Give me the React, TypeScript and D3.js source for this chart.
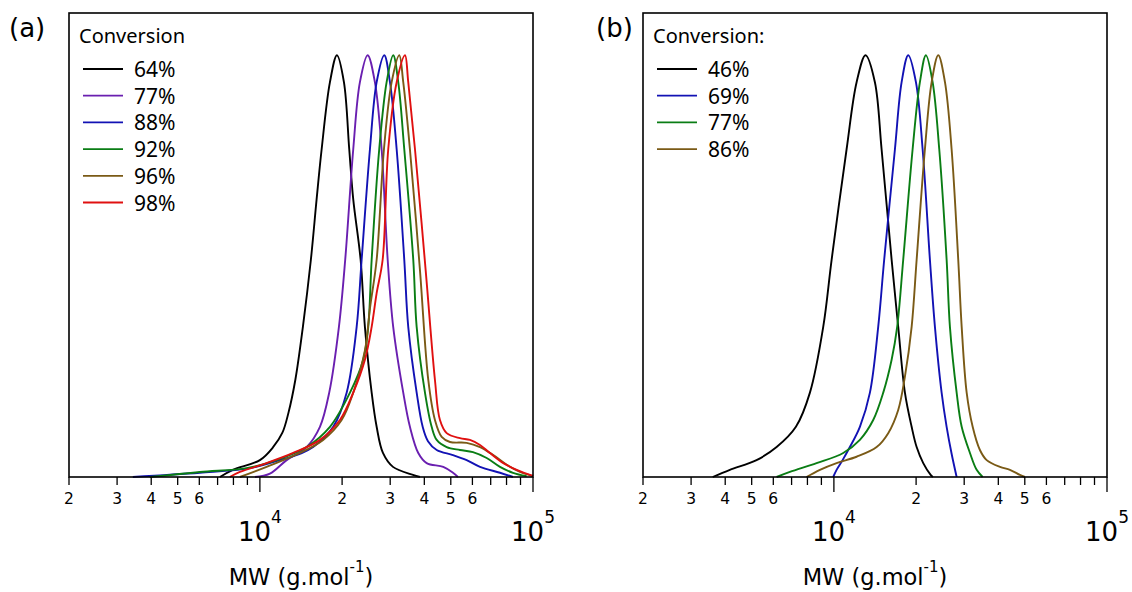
import React from 'react';
import * as d3 from 'd3';

// ---------- Panel (a) data: [MW (g/mol), normalised signal] ----------
const labelsA = ['64%', '77%', '88%', '92%', '96%', '98%'];
const colorsA = ['#000000', '#6a1fb0', '#1212b4', '#0a7d14', '#7a5a16', '#e01010'];

const a64: [number, number][] = [
  [7140, 0], [7960, 0.017], [10000, 0.04], [11160, 0.07], [12090, 0.105], [12720, 0.152], [13480, 0.23],
  [14370, 0.356], [15370, 0.515], [16130, 0.658], [16830, 0.777], [18050, 0.936], [19150, 1.0],
  [20310, 0.936], [21240, 0.777], [21970, 0.658], [23380, 0.515], [24240, 0.356], [25660, 0.2],
  [26760, 0.119], [28220, 0.057], [30710, 0.024], [36350, 0.005], [38560, 0],
];
const a77: [number, number][] = [
  [9590, 0], [10880, 0.008], [12530, 0.04], [14830, 0.071], [16590, 0.119], [17940, 0.2],
  [19470, 0.356], [20530, 0.515], [21970, 0.777], [23240, 0.936], [24800, 1.0], [26370, 0.936],
  [27910, 0.777], [29370, 0.515], [30770, 0.356], [33490, 0.2], [35430, 0.119], [38010, 0.057],
  [40800, 0.033], [46930, 0.024], [50930, 0.01], [53120, 0],
];
const a88: [number, number][] = [
  [3425, 0], [6030, 0.01], [9190, 0.021], [11840, 0.04], [14010, 0.055], [15670, 0.071],
  [18550, 0.119], [20780, 0.2], [22610, 0.356], [23580, 0.515], [25290, 0.777], [26760, 0.936],
  [28530, 1.0], [29940, 0.936], [31680, 0.777], [33780, 0.515], [34930, 0.356], [37500, 0.2],
  [39450, 0.119], [41250, 0.085], [44400, 0.064], [50930, 0.052], [57160, 0.04], [63960, 0.024],
  [75700, 0.01], [84460, 0],
];
const a92: [number, number][] = [
  [3950, 0], [6030, 0.012], [8940, 0.021], [11510, 0.04], [14830, 0.071], [18050, 0.119],
  [21370, 0.2], [23900, 0.278], [24930, 0.356], [25660, 0.515], [27350, 0.777], [29110, 0.936],
  [30770, 1.0], [32110, 0.936], [33780, 0.777], [36440, 0.515], [37500, 0.356], [40220, 0.2],
  [42550, 0.119], [44400, 0.088], [48300, 0.071], [54020, 0.064], [60280, 0.059], [67670, 0.045],
  [75700, 0.024], [84460, 0.01], [94820, 0.002],
];
const a96: [number, number][] = [
  [8450, 0], [10580, 0.024], [14010, 0.057], [17050, 0.088], [19920, 0.135], [21970, 0.2],
  [24240, 0.3], [25290, 0.4], [26760, 0.515], [28460, 0.777], [30370, 0.936], [32380, 1.0],
  [33490, 0.936], [35430, 0.777], [38560, 0.49], [41360, 0.23], [43750, 0.135], [46300, 0.095],
  [49660, 0.083], [57160, 0.081], [63960, 0.071], [71540, 0.052], [80120, 0.029], [89640, 0.012],
  [100000, 0.002],
];
const a98: [number, number][] = [
  [7760, 0], [8450, 0.012], [10580, 0.033], [13240, 0.057], [16590, 0.088], [19630, 0.135],
  [21970, 0.2], [24240, 0.278], [25660, 0.356], [26760, 0.436], [28150, 0.515], [29510, 0.777],
  [31680, 0.936], [33980, 1.0], [34930, 0.936], [36970, 0.777], [40460, 0.49], [43750, 0.23],
  [45640, 0.135], [48300, 0.104], [54020, 0.092], [58770, 0.088], [63960, 0.076], [69570, 0.057],
  [77840, 0.033], [87180, 0.017], [97500, 0.005], [100000, 0.003],
];
const seriesA = [a64, a77, a88, a92, a96, a98];

// ---------- Panel (b) data ----------
const labelsB = ['46%', '69%', '77%', '86%'];
const colorsB = ['#000000', '#1212b4', '#0a7d14', '#7a5a16'];

const b46: [number, number][] = [
  [3600, 0], [4160, 0.017], [5210, 0.04], [6170, 0.071], [7260, 0.119], [8170, 0.2],
  [9140, 0.356], [9810, 0.515], [11130, 0.777], [12110, 0.936], [13060, 1.0], [14130, 0.936],
  [14950, 0.777], [16270, 0.515], [17200, 0.356], [18200, 0.2], [19260, 0.119], [20090, 0.071],
  [21240, 0.033], [22610, 0.005], [23050, 0],
];
const b69: [number, number][] = [
  [9940, 0], [10230, 0.017], [10760, 0.04], [11440, 0.071], [12450, 0.119], [13550, 0.2],
  [14530, 0.356], [15280, 0.515], [16730, 0.777], [17700, 0.936], [18720, 1.0], [19970, 0.936],
  [21130, 0.777], [22470, 0.515], [23440, 0.356], [24800, 0.2], [25870, 0.119], [26980, 0.055],
  [28150, 0],
];
const b77: [number, number][] = [
  [6170, 0], [6900, 0.012], [8640, 0.033], [10820, 0.057], [12450, 0.088], [13930, 0.135],
  [15160, 0.2], [16270, 0.278], [17050, 0.356], [17940, 0.515], [19420, 0.777], [20650, 0.936],
  [21730, 1.0], [22990, 0.936], [24310, 0.777], [25870, 0.515], [26600, 0.356], [28150, 0.2],
  [29370, 0.119], [31490, 0.057], [33320, 0.017], [35050, 0],
];
const b86: [number, number][] = [
  [7940, 0], [8890, 0.017], [10230, 0.033], [12110, 0.048], [14340, 0.071], [15810, 0.104],
  [17200, 0.159], [18200, 0.238], [19260, 0.356], [20090, 0.515], [21540, 0.777], [22800, 0.936],
  [24110, 1.0], [25510, 0.936], [26980, 0.777], [28530, 0.515], [29370, 0.356], [30630, 0.2],
  [32220, 0.119], [34250, 0.064], [36260, 0.04], [40560, 0.024], [44120, 0.017], [48000, 0.005],
  [50080, 0],
];
const seriesB = [b46, b69, b77, b86];

// ---------- Axis ticks ----------
const xDomain = [2000, 100000];
const majorTicks = [10000, 100000];
const minorTicks = [2000, 3000, 4000, 5000, 6000, 7000, 8000, 9000,
  20000, 30000, 40000, 50000, 60000, 70000, 80000, 90000];
const labelledMinor = [2, 3, 4, 5, 6];
const majorExponents = [4, 5];

const FONT = '"Noto Sans", "DejaVu Sans", sans-serif';
const AXFONT = '"DejaVu Sans", "Noto Sans", sans-serif';
const TOP = 13;
const BOTTOM = 477;
const WIDTH = 464;

type PanelProps = {
  left: number;
  series: [number, number][][];
  colors: string[];
  labels: string[];
  title: string;
  tag: string;
  tagX: number;
};

function Panel({ left, series, colors, labels, title, tag, tagX }: PanelProps) {
  const x = d3.scaleLog().domain(xDomain).range([left, left + WIDTH]);
  const y = d3.scaleLinear().domain([0, 1.1]).range([BOTTOM, TOP]);
  const line = d3
    .line<[number, number]>()
    .x((d) => x(d[0]))
    .y((d) => Math.min(BOTTOM, y(d[1])))
    .curve(d3.curveCatmullRom.alpha(0.5));

  const legX = left + 10;
  return (
    <g>
      <text x={tagX} y={37} fontSize={26} fontFamily={AXFONT} fill="#000">{tag}</text>
      {series.map((s, i) => (
        <path key={i} d={line(s) || ''} fill="none" stroke={colors[i]} strokeWidth={1.9} />
      ))}
      <rect x={left} y={TOP} width={WIDTH} height={BOTTOM - TOP} fill="none" stroke="#000" strokeWidth={1.6} />
      <g fontFamily={AXFONT}>
        {minorTicks.map((t) => {
          const m = Math.round(t / Math.pow(10, Math.floor(Math.log10(t))));
          return (
            <g key={t}>
              <line x1={x(t)} x2={x(t)} y1={BOTTOM} y2={BOTTOM + 8} stroke="#000" strokeWidth={1.3} />
              {labelledMinor.includes(m) && (
                <text x={x(t)} y={504} fontSize={15.5} textAnchor="middle" fill="#000">{m}</text>
              )}
            </g>
          );
        })}
        {majorTicks.map((t, i) => (
          <g key={t}>
            <line x1={x(t)} x2={x(t)} y1={BOTTOM} y2={BOTTOM + 15} stroke="#000" strokeWidth={1.3} />
            <text x={x(t)} y={541} fontSize={26} textAnchor="middle" fill="#000">
              10<tspan dy={-18} fontSize={17}>{majorExponents[i]}</tspan>
            </text>
          </g>
        ))}
        <text x={left + WIDTH / 2} y={585} fontSize={22.5} textAnchor="middle" fill="#000">
          MW (g.mol<tspan dy={-13} fontSize={15}>-1</tspan><tspan dy={13}>)</tspan>
        </text>
      </g>
      <g fontFamily={FONT}>
        <text x={legX} y={43} fontSize={20} fill="#000">{title}</text>
        {labels.map((lab, i) => {
          const ly = 69 + i * 26.7;
          return (
            <g key={lab + i}>
              <line x1={legX + 4} x2={legX + 44} y1={ly} y2={ly} stroke={colors[i]} strokeWidth={1.8} />
              <text x={legX + 55} y={ly + 8} fontSize={21} fill="#000">{lab}</text>
            </g>
          );
        })}
      </g>
    </g>
  );
}

export default function App() {
  return (
    <svg width={1132} height={592} style={{ position: 'absolute', left: 0, top: 0, background: '#fff' }}>
      <rect x={0} y={0} width={1132} height={592} fill="#fff" />
      <Panel left={69} series={seriesA} colors={colorsA} labels={labelsA} title="Conversion" tag="(a)" tagX={9} />
      <Panel left={643} series={seriesB} colors={colorsB} labels={labelsB} title="Conversion:" tag="(b)" tagX={596} />
    </svg>
  );
}
